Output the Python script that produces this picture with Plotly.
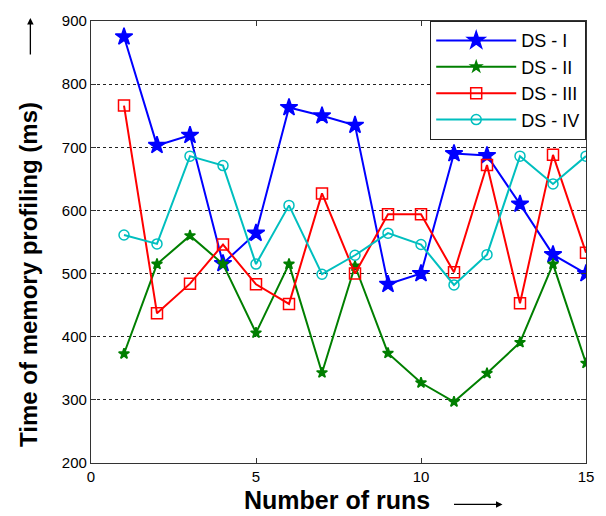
import plotly.graph_objects as go

runs = list(range(1, 16))
ds1 = [875, 703, 719, 516, 564, 763, 750, 735, 483, 500, 690, 687, 610, 530, 500]
ds2 = [373, 515, 560, 515, 406, 515, 343, 512, 374, 327, 297, 342, 391, 515, 358]
ds3 = [766, 437, 484, 546, 483, 452, 627, 500, 594, 594, 502, 672, 453, 688, 533]
ds4 = [561, 547, 686, 671, 515, 608, 499, 529, 564, 546, 482, 530, 686, 642, 686]
names = ["DS - I", "DS - II", "DS - III", "DS - IV"]
y_ticks = [200, 300, 400, 500, 600, 700, 800, 900]
x_ticks = [0, 5, 10, 15]

fig = go.Figure()
styles = [
    dict(color="#0000ff", symbol="star", size=13),
    dict(color="#007f00", symbol="star", size=8),
    dict(color="#ff0000", symbol="square-open", size=11),
    dict(color="#00bfbf", symbol="circle-open", size=10),
]
for name, ys, st in zip(names, [ds1, ds2, ds3, ds4], styles):
    fig.add_trace(go.Scatter(
        x=runs, y=ys, name=name, mode="lines+markers",
        line=dict(color=st["color"], width=2),
        marker=dict(symbol=st["symbol"], size=st["size"], color=st["color"],
                    line=dict(color=st["color"], width=1.5)),
    ))

axis_common = dict(
    showline=True, linecolor="#333333", linewidth=1.2, mirror="ticks",
    ticks="inside", ticklen=5, tickcolor="#333333",
    tickfont=dict(family="Liberation Sans, Arial", size=15, color="black"),
    zeroline=False,
)
fig.update_xaxes(range=[0, 15], tickvals=x_ticks, showgrid=False, **axis_common)
fig.update_yaxes(range=[200, 900], tickvals=y_ticks, showgrid=True,
                 gridcolor="#222222", griddash="3px,3px", gridwidth=1, **axis_common)

fig.update_layout(
    width=606, height=516,
    margin=dict(l=91, r=17, t=15, b=53),
    plot_bgcolor="white", paper_bgcolor="white",
    showlegend=True,
    legend=dict(x=1, y=1, xanchor="right", yanchor="top",
                bordercolor="#222222", borderwidth=1.2, bgcolor="white",
                font=dict(family="Liberation Sans, Arial", size=18, color="black"),
                tracegroupgap=0, itemwidth=80),
    annotations=[
        dict(text="<b>Number of runs</b>", xref="paper", yref="paper",
             x=(338 - 91) / 498, y=-(500 - 463) / 448, xanchor="center", yanchor="middle",
             showarrow=False, font=dict(family="Liberation Sans, Arial", size=25, color="black")),
        dict(text="<b>Time of memory profiling (ms)</b>", xref="paper", yref="paper",
             x=-(91 - 28) / 498, y=(463 - 272) / 448, xanchor="center", yanchor="middle",
             textangle=-90, showarrow=False,
             font=dict(family="Liberation Sans, Arial", size=24, color="black")),
        dict(x=(505 - 91) / 498, y=-(505 - 463) / 448, ax=-50, ay=0,
             xref="paper", yref="paper", text="",
             showarrow=True, arrowhead=2, arrowsize=1, arrowwidth=1.3, arrowcolor="black"),
        dict(x=-(91 - 30) / 498, y=(463 - 12) / 448, xref="paper", yref="paper",
             ax=0, ay=38, text="", showarrow=True, arrowhead=2, arrowsize=1,
             arrowwidth=1.3, arrowcolor="black"),
    ],
)

fig.write_html("out.html")
